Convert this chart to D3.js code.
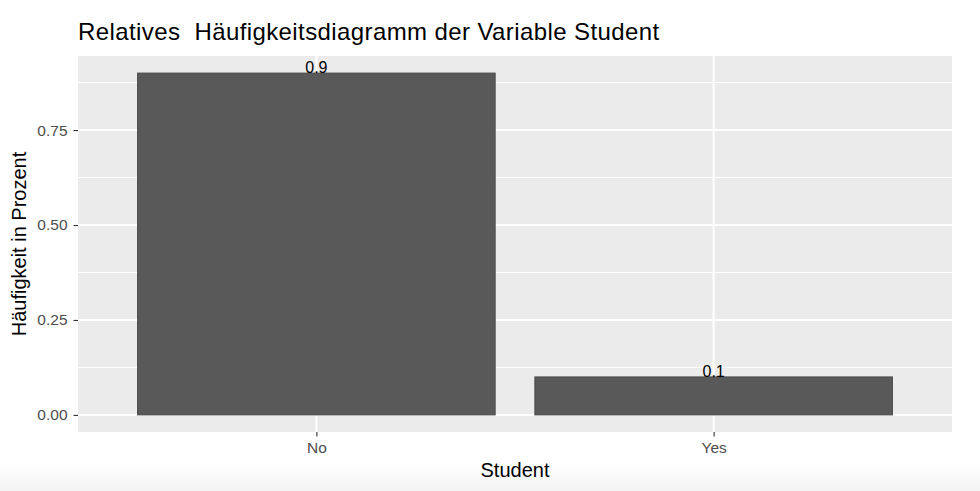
<!DOCTYPE html>
<html>
<head>
<meta charset="utf-8">
<script src="https://cdn.jsdelivr.net/npm/d3@7"></script>
<style>
  body { margin: 0; background: #fff; }
  svg { display: block; font-family: "Liberation Sans", Arial, sans-serif; }
</style>
</head>
<body>
<div id="chart"></div>
<script>
const categories = ["No", "Yes"];
const shares = [0.9, 0.1];
const yTicks = [0, 0.25, 0.5, 0.75];
const yMinor = [0.125, 0.375, 0.625, 0.875];

const width = 980;
const height = 491;
const margin = { top: 56, right: 28, bottom: 59, left: 78 };

const svg = d3.select('#chart')
  .append('svg')
  .attr('width', width)
  .attr('height', height);

// slight grey fade at the bottom of the screenshot
const grad = svg.append('defs').append('linearGradient')
  .attr('id', 'fade').attr('x1', 0).attr('y1', 0).attr('x2', 0).attr('y2', 1);
grad.append('stop').attr('offset', '0%').attr('stop-color', '#ffffff');
grad.append('stop').attr('offset', '100%').attr('stop-color', '#f3f3f3');
svg.append('rect')
  .attr('x', 0).attr('y', 462).attr('width', width).attr('height', height - 462)
  .attr('fill', 'url(#fade)');

const x = d3.scaleLinear()
  .domain([0.4, 2.6])
  .range([margin.left, width - margin.right]);

const y = d3.scaleLinear()
  .domain([-0.045, 0.945])
  .range([height - margin.bottom, margin.top]);

// panel
svg.append('rect')
  .attr('x', margin.left)
  .attr('y', margin.top)
  .attr('width', width - margin.left - margin.right)
  .attr('height', height - margin.top - margin.bottom)
  .attr('fill', '#ebebeb');

const grid = svg.append('g');
grid.selectAll('.minor')
  .data(yMinor)
  .join('line')
  .attr('x1', margin.left).attr('x2', width - margin.right)
  .attr('y1', d => y(d)).attr('y2', d => y(d))
  .attr('stroke', '#fff').attr('stroke-width', 1);
grid.selectAll('.major')
  .data(yTicks)
  .join('line')
  .attr('x1', margin.left).attr('x2', width - margin.right)
  .attr('y1', d => y(d)).attr('y2', d => y(d))
  .attr('stroke', '#fff').attr('stroke-width', 2);
grid.selectAll('.vmajor')
  .data(categories)
  .join('line')
  .attr('x1', (d, i) => x(i + 1)).attr('x2', (d, i) => x(i + 1))
  .attr('y1', margin.top).attr('y2', height - margin.bottom)
  .attr('stroke', '#fff').attr('stroke-width', 2);

// bars
svg.append('g')
  .selectAll('rect')
  .data(shares)
  .join('rect')
  .attr('x', (d, i) => x(i + 1 - 0.45))
  .attr('width', x(1.45) - x(0.55))
  .attr('y', d => y(d))
  .attr('height', d => y(0) - y(d))
  .attr('fill', '#595959')
  .attr('stroke', '#4a4a4a')
  .attr('stroke-width', 1);

// value labels
svg.append('g')
  .selectAll('text')
  .data(shares)
  .join('text')
  .attr('x', (d, i) => x(i + 1))
  .attr('y', d => y(d))
  .attr('text-anchor', 'middle')
  .attr('font-size', 16)
  .attr('fill', '#000')
  .text(d => d);

// y axis
const yAxis = svg.append('g')
  .attr('transform', `translate(${margin.left},0)`)
  .call(d3.axisLeft(y).tickValues(yTicks).tickFormat(d3.format('.2f')).tickSize(4.5).tickPadding(6));
yAxis.select('.domain').remove();
yAxis.selectAll('line').attr('stroke', '#333').attr('stroke-width', 1.1);
yAxis.selectAll('text').attr('fill', '#4d4d4d').attr('font-size', 15.5).attr('font-family', null);

// x axis
const xAxis = svg.append('g')
  .attr('transform', `translate(0,${height - margin.bottom})`)
  .call(d3.axisBottom(x).tickValues([1, 2]).tickFormat(d => categories[d - 1]).tickSize(4.5).tickPadding(5.5));
xAxis.select('.domain').remove();
xAxis.selectAll('line').attr('stroke', '#333').attr('stroke-width', 1.1);
xAxis.selectAll('text').attr('fill', '#4d4d4d').attr('font-size', 15.5).attr('font-family', null);

// titles
svg.append('text')
  .attr('x', margin.left)
  .attr('y', 39.5)
  .attr('font-size', 24)
  .attr('letter-spacing', 0.4)
  .attr('fill', '#000')
  .style('white-space', 'pre')
  .text('Relatives  Häufigkeitsdiagramm der Variable Student');

svg.append('text')
  .attr('x', (margin.left + width - margin.right) / 2)
  .attr('y', 477)
  .attr('text-anchor', 'middle')
  .attr('font-size', 20)
  .attr('fill', '#000')
  .text('Student');

svg.append('text')
  .attr('transform', `translate(26,${(margin.top + height - margin.bottom) / 2}) rotate(-90)`)
  .attr('text-anchor', 'middle')
  .attr('font-size', 20)
  .attr('fill', '#000')
  .text('Häufigkeit in Prozent');
</script>
</body>
</html>
